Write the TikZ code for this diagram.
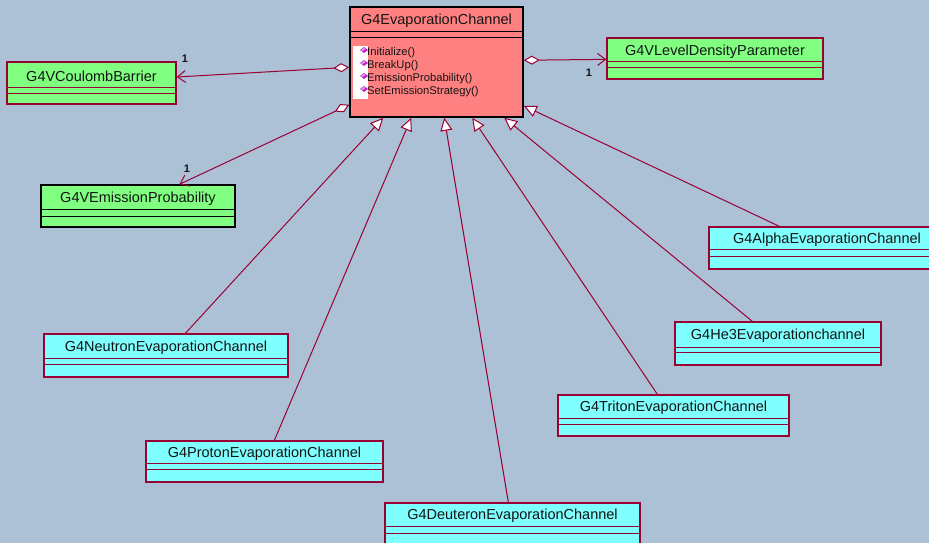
\documentclass[tikz,border=0pt]{standalone}
\usepackage{fontspec}
\setmainfont{Liberation Sans}
\usetikzlibrary{arrows.meta,fit}
\definecolor{bg}{RGB}{173,193,214}
\definecolor{maroon}{RGB}{153,0,51}
\definecolor{lgreen}{RGB}{128,255,128}
\definecolor{lcyan}{RGB}{128,255,255}
\definecolor{salmon}{RGB}{255,128,128}
\definecolor{txt}{RGB}{20,20,20}
\definecolor{gem}{RGB}{190,40,200}
\definecolor{gemlight}{RGB}{235,150,240}
\newcommand\umlbox[9]{%
  \node[fit={(#2,#3)(#4,#5)}, inner sep=0pt, #8] (#1) {};
  \draw[#8, fill=none, line width=1pt] (#2,#6) -- (#4,#6) (#2,#7) -- (#4,#7);
  \node[titletext] (#1-t) at ({(#2+#4)/2},{(#3+#6)/2+1.5}) {#9};
}
\newcommand\opline[3]{%
  \fill[gem] (364,#2) ++(-4,0) -- ++(4,-3) -- ++(4,3) -- ++(-4,3) -- cycle;
  \fill[gemlight] (364,#2) ++(-3,0) -- ++(3,-2.2) -- ++(1.5,1.1) -- ++(-3,2.2) -- cycle;
  \node[optext, anchor=west] (#1) at (367,#3) {#1()};
}
\tikzset{
  titletext/.style={font=\fontsize{14.5}{17}\selectfont, text=txt, inner sep=0pt},
  optext/.style={font=\fontsize{11.2}{13}\selectfont, text=txt, inner sep=0pt},
  multtext/.style={font=\fontsize{11}{13}\selectfont\bfseries, text=txt, inner sep=0pt},
  greenbox/.style={draw=maroon, fill=lgreen, line width=1.3pt},
  greenblack/.style={draw=black, fill=lgreen, line width=1.3pt},
  cyanbox/.style={draw=maroon, fill=lcyan, line width=1.3pt},
  mainbox/.style={draw=black, fill=salmon, line width=1.5pt},
  assoc/.style={draw=maroon, line width=1pt,
    {Diamond[fill=white, length=16pt, width=9pt]}-{Straight Barb[length=8pt, width=12pt]}},
  inherit/.style={draw=maroon, line width=1pt, -{Triangle[fill=white, length=13pt, width=12pt]}}
}
\begin{document}
\begin{tikzpicture}[x=1pt, y=-1pt]
\useasboundingbox (0,0) rectangle (929,543);
\clip (0,0) rectangle (929,543);
\fill[bg] (0,0) rectangle (929,543);

% main class
\umlbox{main}{350}{7}{523}{117}{32}{38}{mainbox}{G4EvaporationChannel}
\fill[white] (353,46) rectangle (368,99);
\opline{Initialize}{50}{53}
\opline{BreakUp}{63}{66}
\opline{EmissionProbability}{76}{79}
\opline{SetEmissionStrategy}{89}{92}

% associated classes
\umlbox{coulomb}{7}{62}{176}{104}{87}{93}{greenbox}{G4VCoulombBarrier}
\umlbox{level}{607}{38}{823}{79}{62}{68}{greenbox}{G4VLevelDensityParameter}
\umlbox{emission}{41}{185}{235}{227}{209}{216}{greenblack}{G4VEmissionProbability}

% derived classes
\umlbox{alpha}{709}{227}{945}{269}{249}{256}{cyanbox}{G4AlphaEvaporationChannel}
\umlbox{he3}{675}{322}{881}{365}{347}{352}{cyanbox}{G4He3Evaporationchannel}
\umlbox{triton}{558}{395}{789}{436}{418}{424}{cyanbox}{G4TritonEvaporationChannel}
\umlbox{deuteron}{385}{503}{640}{560}{526}{533}{cyanbox}{G4DeuteronEvaporationChannel}
\umlbox{proton}{146}{441}{383}{482}{463}{469}{cyanbox}{G4ProtonEvaporationChannel}
\umlbox{neutron}{44}{334}{288}{377}{358}{364}{cyanbox}{G4NeutronEvaporationChannel}

% associations
\draw[assoc] ([yshift=-61pt]main.north west) -- ([yshift=6pt]coulomb.east);
\draw[assoc] ([yshift=-54pt]main.north east) -- ([yshift=-22pt]level.north west);
\draw[assoc] ([yshift=13pt]main.south west) -- ([xshift=139pt]emission.north west);
\node[multtext] (m1) at (185,59) {1};
\node[multtext] (m2) at (589,73) {1};
\node[multtext] (m3) at (187,169) {1};

% generalisations
\draw[inherit] ([xshift=142pt]neutron.north west) -- ([xshift=34pt]main.south west);
\draw[inherit] ([xshift=129pt]proton.north west) -- ([xshift=62pt]main.south west);
\draw[inherit] ([xshift=124pt]deuteron.north west) -- ([xshift=95pt]main.south west);
\draw[inherit] ([xshift=100pt]triton.north west) -- ([xshift=123pt]main.south west);
\draw[inherit] ([xshift=78pt]he3.north west) -- ([xshift=155pt]main.south west);
\draw[inherit] ([xshift=71pt]alpha.north west) -- ([yshift=12pt]main.south east);
\end{tikzpicture}
\end{document}
